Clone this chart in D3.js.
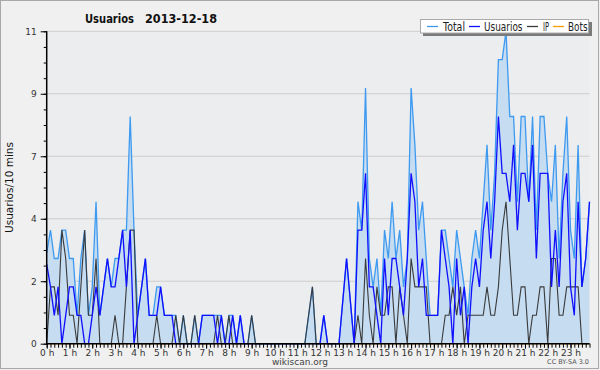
<!DOCTYPE html>
<html lang="es">
<head>
<meta charset="UTF-8">
<title>Usuarios 2013-12-18</title>
<script src="https://d3js.org/d3.v7.min.js"></script>
<style>
  body { margin: 0; background: #f0f0f0; }
  text { font-family: "DejaVu Sans", sans-serif; }
</style>
</head>
<body>
<script>
// valores cada 10 minutos, 144 puntos
const usuarios = [
  2.8,2,1,2,0,1,  2,2,1,1,0,0,  1,2,1,2,3,2,  2,3,4,2,4,0,
  1,2,3,1,1,1,  2,1,1,1,0,0,  0,0,0,0,0,1,  1,1,1,0,1,0,
  0,1,0,1,0,0,  0,0,0,0,0,0,  0,0,0,0,0,0,  0,0,0,0,0,0,
  0,1,0,0,0,0,  1.5,3,1.5,0,4,4,  6,2,2,1,0,3,  1,3,3,2,1,3,
  6,5,2,3,1,1,  1,1,4,3,2,0,  3,1,2,0,2,3,  2,4,5,3,5,8,
  6,6,5,7,4,6,  6,5,7,3,6,6,  6,2,4,2,5,6,  2,1,5,2,3,5
];
const ip = [
  0,2,2,1,4,3,  1,1,0,2,4,1,  1,3,0,0,0,0,  1,0,0,2,4,4,
  0,0,0,0,0,1,  0,0,0,0,1,0,  1,0,0,1,0,0,  0,0,0,1,0,0,
  1,0,0,0,0,0,  1,0,0,0,0,0,  0,0,0,0,0,0,  0,0,0,1,2,0,
  0,0,0,0,0,0,  0,0,0,0,1,0,  3,1,0,2,1,1,  2,2,0,2,1,0,
  3,2,2,2,2,0,  0,0,0,1,1,2,  1,2,0,1,1,1,  1,1,2,1,1,2,
  4,5,3,1,1,2,  2,0,1,1,2,2,  0,3,3,1,1,2,  2,2,2,0,0,0
];
const total = [
  3.2,4,3,3,4,4,  3,3,1,3,4,1,  2,5,1,2,3,2,  3,3,4,4,8,4,
  1,2,3,1,1,2,  2,1,1,1,1,0,  1,0,0,1,0,1,  1,1,1,1,1,0,
  1,1,0,1,0,0,  1,0,0,0,0,0,  0,0,0,0,0,0,  0,0,0,1,2,0,
  0,1,0,0,0,0,  1.5,3,1.5,0,5,4,  9,3,2,3,1,4,  3,5,3,4,2,3,
  9,7,4,5,3,1,  1,1,4,4,3,2,  4,3,2,1,3,4,  3,5,7,4,6,10,
  10,11,8,8,5,8,  8,5,8,4,8,8,  6,5,7,3,6,8,  4,3,7,2,3,5
];
const bots = new Array(144).fill(0);
const horas = d3.range(24).map(h => h + " h");
const yTicks = [0, 2.2, 4.4, 6.6, 8.8, 11];
const series = [
  {name: "Total", color: "#3d9af0"},
  {name: "Usuarios", color: "#1010ff"},
  {name: "IP", color: "#3a3a3a"},
  {name: "Bots", color: "#ff9900"}
];

const W = 600, H = 370;
const svg = d3.select("body").append("svg").attr("width", W).attr("height", H);

svg.append("rect").attr("x", 0.5).attr("y", 0.5).attr("width", W - 2).attr("height", H - 2)
  .attr("fill", "#f0f0f0").attr("stroke", "#a8a8a8");

const x = d3.scaleLinear().domain([0, 143]).range([46.7, 589.5]);
const y = d3.scaleLinear().domain([0, 11]).range([343.7, 31.3]);

// fondo del área de gráfico
svg.append("rect").attr("x", x(0)).attr("y", y(11)).attr("width", x(143) - x(0)).attr("height", y(0) - y(11))
  .attr("fill", "#ecedef");

// rejilla
svg.append("g").selectAll("line").data(yTicks.slice(1)).join("line")
  .attr("x1", x(0)).attr("x2", x(143)).attr("y1", d => y(d)).attr("y2", d => y(d))
  .attr("stroke", "#cdcdcd").attr("stroke-width", 1);

const idx = d3.range(144);

svg.append("path").datum(idx)
  .attr("fill", "#c5dcf1")
  .attr("d", d3.area().x(i => x(i)).y0(y(0)).y1(i => y(total[i])));

const line = arr => d3.line().x(i => x(i)).y(i => y(arr[i]));
svg.append("path").datum(idx).attr("fill", "none").attr("stroke", "#ff9900").attr("stroke-width", 1.2).attr("d", line(bots));
svg.append("path").datum(idx).attr("fill", "none").attr("stroke", series[0].color).attr("stroke-width", 1.3).attr("d", line(total));
svg.append("path").datum(idx).attr("fill", "none").attr("stroke", series[2].color).attr("stroke-width", 1.1).attr("d", line(ip));
svg.append("path").datum(idx).attr("fill", "none").attr("stroke", series[1].color).attr("stroke-width", 1.3).attr("d", line(usuarios));

// eje Y
const yAxis = d3.axisLeft(y).tickValues(d3.range(0, 11.01, 0.55)).tickSize(3)
  .tickFormat(() => "");
svg.append("g").attr("transform", `translate(${x(0)},0)`).call(yAxis)
  .call(g => g.select(".domain").remove())
  .call(g => g.selectAll("line").attr("stroke", "#000"));
const yAxisMaj = d3.axisLeft(y).tickValues(yTicks).tickSize(6)
  .tickFormat(d => d3.format(".0f")(d));
svg.append("g").attr("transform", `translate(${x(0)},0)`).call(yAxisMaj)
  .call(g => g.select(".domain").remove())
  .call(g => g.selectAll("line").attr("stroke", "#000"))
  .call(g => g.selectAll("text").attr("font-size", 9).attr("fill", "#333").attr("dx", -1));
svg.append("line").attr("x1", x(0)).attr("x2", x(0)).attr("y1", y(11)).attr("y2", y(0) + 1)
  .attr("stroke", "#000").attr("stroke-width", 1.5);

// eje X
const xAxis = d3.axisBottom(x).tickValues(d3.range(0, 144)).tickSize(4).tickFormat(() => "");
svg.append("g").attr("transform", `translate(0,${y(0)})`).call(xAxis)
  .call(g => g.select(".domain").remove())
  .call(g => g.selectAll("line").attr("stroke", "#000"));
const xAxisH = d3.axisBottom(x).tickValues(d3.range(0, 144, 6)).tickSize(5)
  .tickFormat((d, i) => horas[i]);
svg.append("g").attr("transform", `translate(0,${y(0)})`).call(xAxisH)
  .call(g => g.select(".domain").remove())
  .call(g => g.selectAll("line").attr("stroke", "#000"))
  .call(g => g.selectAll("text").attr("font-size", 9).attr("fill", "#333").attr("dy", "0.45em"));
svg.append("line").attr("x1", x(0)).attr("x2", x(143)).attr("y1", y(0)).attr("y2", y(0))
  .attr("stroke", "#000").attr("stroke-width", 1.5);

// títulos
const tt = svg.append("g").attr("font-weight", "bold").attr("fill", "#111");
tt.append("text").attr("x", 85).attr("y", 23).attr("font-size", 13)
  .attr("textLength", 49).attr("lengthAdjust", "spacingAndGlyphs").text("Usuarios");
tt.append("text").attr("x", 145).attr("y", 23).attr("font-size", 13)
  .attr("textLength", 72).attr("lengthAdjust", "spacingAndGlyphs").text("2013-12-18");
svg.append("text").attr("transform", `translate(13,${(y(0) + y(11)) / 2}) rotate(-90)`)
  .attr("text-anchor", "middle").attr("font-family", "DejaVu Sans Mono").attr("font-size", 10.5).attr("fill", "#111")
  .text("Usuarios/10 mins");
svg.append("text").attr("x", 300).attr("y", 365).attr("text-anchor", "middle").attr("font-size", 9)
  .attr("fill", "#444").text("wikiscan.org");
svg.append("text").attr("x", 589).attr("y", 364).attr("text-anchor", "end").attr("font-size", 6.5)
  .attr("fill", "#555").text("CC BY-SA 3.0");

// leyenda
const lg = svg.append("g");
lg.append("rect").attr("x", 423).attr("y", 22).attr("width", 169).attr("height", 14).attr("fill", "#7a7a7a");
lg.append("rect").attr("x", 420.5).attr("y", 19.5).attr("width", 168).attr("height", 13.5).attr("fill", "#fff")
  .attr("stroke", "#aaa").attr("stroke-width", 1);
const lineX = [427, 469, 527, 553];
const textX = [443, 484, 543, 568];
const textW = [22, 38.5, 6, 19.5];
series.forEach((s, i) => {
  lg.append("line").attr("x1", lineX[i]).attr("x2", lineX[i] + 11).attr("y1", 26.5).attr("y2", 26.5)
    .attr("stroke", s.color).attr("stroke-width", 1.3);
  lg.append("text").attr("x", textX[i]).attr("y", 31).attr("font-size", 11.5).attr("fill", "#222")
    .attr("textLength", textW[i]).attr("lengthAdjust", "spacingAndGlyphs").text(s.name);
});
</script>
</body>
</html>
